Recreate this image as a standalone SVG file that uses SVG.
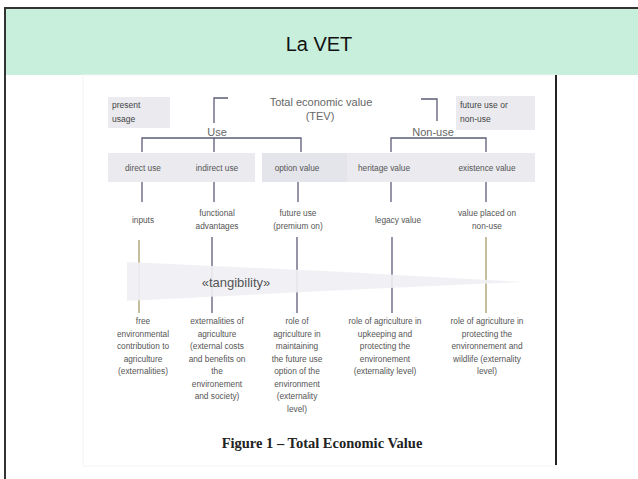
<svg xmlns="http://www.w3.org/2000/svg" width="638" height="479" viewBox="0 0 638 479">
<defs>
<style>
.s{font-family:"Liberation Sans",Arial,sans-serif;font-size:8.3px;fill:#555;text-anchor:middle}
.l{font-family:"Liberation Sans",Arial,sans-serif;font-size:8.5px;fill:#444}
.big{font-family:"Liberation Sans",Arial,sans-serif;font-size:11px;fill:#666;text-anchor:middle}
.box{fill:#eaeaef}
.ln{stroke:#5c5c78;stroke-width:1.3;fill:none}
.ol{stroke:#a59c68;stroke-width:1.3;fill:none}
</style>
</defs>
<rect x="0" y="0" width="638" height="479" fill="#fff"/>
<rect x="5" y="8" width="633" height="67" fill="#c8efdc"/>
<line x1="4" y1="8" x2="638" y2="8" stroke="#333" stroke-width="2"/>
<line x1="5" y1="7" x2="5" y2="479" stroke="#333" stroke-width="2"/>
<text x="319" y="51" font-family="Liberation Sans, Arial, sans-serif" font-size="20" fill="#111" text-anchor="middle">La VET</text>
<rect x="83" y="75" width="473" height="391" fill="#fff" stroke="#f2f6f6" stroke-width="1"/>
<line x1="556" y1="75" x2="556" y2="465" stroke="#222" stroke-width="2"/>

<g id="present-usage"><rect class="box" x="108" y="97" width="62" height="31"/><text class="l" x="112" y="108">present</text><text class="l" x="112" y="122">usage</text></g>
<g id="future-nonuse"><rect class="box" x="456" y="96" width="79" height="34"/><text class="l" x="460" y="108">future use or</text><text class="l" x="460" y="122">non-use</text></g>
<g id="tev"><text class="big" x="321" y="106">Total economic value</text><text class="big" x="320" y="120">(TEV)</text></g>
<g id="use"><text class="big" x="217" y="136" font-size="10.5">Use</text></g>
<g id="nonuse"><text class="big" x="433" y="136">Non-use</text></g>

<g id="row-boxes">
<rect class="box" x="108" y="153" width="147" height="29"/>
<rect x="262" y="153" width="85" height="29" fill="#e4e4eb"/>
<rect class="box" x="347" y="153" width="188" height="29"/>
</g>
<g id="direct-use"><text class="s" x="143" y="171">direct use</text></g>
<g id="indirect-use"><text class="s" x="217" y="171">indirect use</text></g>
<g id="option-value"><text class="s" x="297" y="171">option value</text></g>
<g id="heritage-value"><text class="s" x="384" y="171">heritage value</text></g>
<g id="existence-value"><text class="s" x="487" y="171">existence value</text></g>

<g id="connectors">
<path class="ln" d="M228 98 H214 V123"/>
<path class="ln" d="M421 99 H437 V121"/>
<path class="ln" d="M142 152 V138 H301 V152 M214 138 V152"/>
<path class="ln" d="M391 152 V138 H486 V152"/>
<path class="ln" d="M142 182 V202 M214 182 V202 M298 182 V202 M391 182 V202 M486 182 V202"/>
<path class="ol" d="M139 240 V313"/>
<path class="ln" d="M212 237 V313 M297 237 V313 M392 237 V313"/>
<path class="ol" d="M486 237 V313"/>
</g>

<g id="inputs"><text class="s" x="143" y="223">inputs</text></g>
<g id="functional"><text class="s" x="217" y="216">functional</text><text class="s" x="217" y="229">advantages</text></g>
<g id="future-use"><text class="s" x="298" y="216">future use</text><text class="s" x="298" y="229">(premium on)</text></g>
<g id="legacy"><text class="s" x="398" y="223">legacy value</text></g>
<g id="value-placed"><text class="s" x="487" y="216">value placed on</text><text class="s" x="487" y="229">non-use</text></g>

<g id="tangibility">
<polygon points="127,262 345,272 523,282 345,290 127,301" fill="#f0f0f4" opacity="0.9"/>
<text x="236" y="287" font-family="Liberation Sans, Arial, sans-serif" font-size="13" fill="#555" text-anchor="middle">«tangibility»</text>
</g>

<g id="col1"><text class="s" x="143" y="324">free</text><text class="s" x="143" y="336.5">environmental</text><text class="s" x="143" y="349">contribution to</text><text class="s" x="143" y="361.5">agriculture</text><text class="s" x="143" y="374">(externalities)</text></g>
<g id="col2"><text class="s" x="217" y="324">externalities of</text><text class="s" x="217" y="336.5">agriculture</text><text class="s" x="217" y="349">(external costs</text><text class="s" x="217" y="361.5">and benefits on</text><text class="s" x="217" y="374">the</text><text class="s" x="217" y="386.5">environement</text><text class="s" x="217" y="399">and society)</text></g>
<g id="col3"><text class="s" x="297" y="324">role of</text><text class="s" x="297" y="336.5">agriculture in</text><text class="s" x="297" y="349">maintaining</text><text class="s" x="297" y="361.5">the future use</text><text class="s" x="297" y="374">option of the</text><text class="s" x="297" y="386.5">environment</text><text class="s" x="297" y="399">(externality</text><text class="s" x="297" y="411.5">level)</text></g>
<g id="col4"><text class="s" x="385" y="324">role of agriculture in</text><text class="s" x="385" y="336.5">upkeeping and</text><text class="s" x="385" y="349">protecting the</text><text class="s" x="385" y="361.5">environement</text><text class="s" x="385" y="374">(externality level)</text></g>
<g id="col5"><text class="s" x="487" y="324">role of agriculture in</text><text class="s" x="487" y="336.5">protecting the</text><text class="s" x="487" y="349">environnement and</text><text class="s" x="487" y="361.5">wildlife (externality</text><text class="s" x="487" y="374">level)</text></g>

<g id="caption"><text x="322" y="448" font-family="Liberation Serif, 'Times New Roman', serif" font-size="14.5" font-weight="bold" fill="#222" text-anchor="middle">Figure 1 – Total Economic Value</text></g>
</svg>
